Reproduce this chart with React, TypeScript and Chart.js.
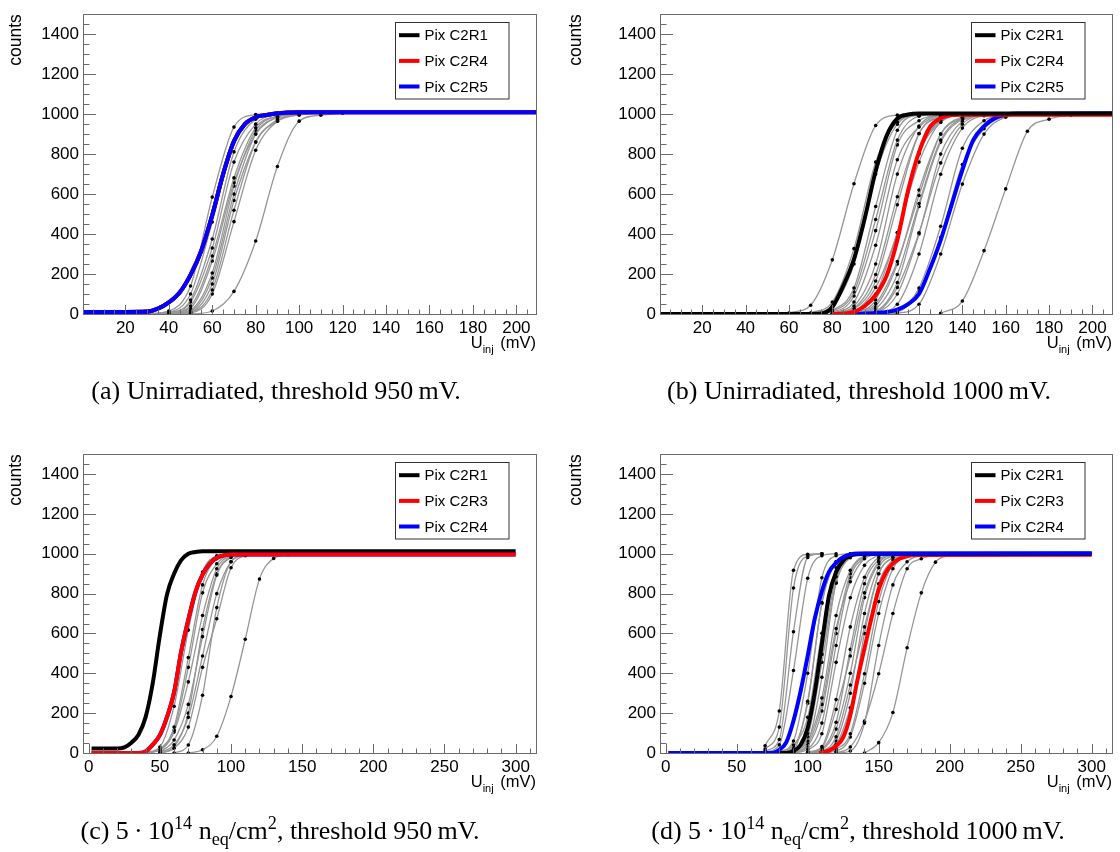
import React, { useEffect, useRef } from 'react';
import { Chart, registerables } from 'chart.js';

Chart.register(...registerables);

// ---------------- shared axis values ----------------
const yTickValues = [0, 200, 400, 600, 800, 1000, 1200, 1400];
const xTicksLow = [20, 40, 60, 80, 100, 120, 140, 160, 180, 200];
const xTicksHigh = [0, 50, 100, 150, 200, 250, 300];

// ---------------- panel (a) ----------------
const aLegend = ['Pix C2R1', 'Pix C2R4', 'Pix C2R5'];
const aX = [0.5, 10, 20, 30, 35, 40, 45, 50, 55, 60, 65, 70, 75, 80, 85, 90, 95, 100, 209.5];
const aC2R5 = [10, 10, 10, 12, 27, 58, 108, 196, 318, 495, 700, 865, 950, 985, 996, 1004, 1008, 1010, 1010];
const aC2R1 = aC2R5; // hidden under C2R5 in the reference
const aC2R4 = aC2R5; // hidden under C2R5 in the reference
const aGrayStart = [30, 30, 30, 30, 40, 40, 40, 40, 40, 40, 40, 50];
const aGray = [
  [2, 15, 140, 585, 935, 998, 1005],
  [1, 10, 100, 460, 860, 990, 1005],
  [0, 5, 70, 375, 811, 975, 1003],
  [0, 8, 60, 330, 760, 950, 1000, 1008],
  [3, 40, 290, 681, 932, 990, 1005],
  [2, 30, 265, 657, 900, 985, 1005],
  [1, 20, 205, 640, 919, 990, 1005],
  [1, 15, 180, 600, 900, 985, 1005],
  [0, 10, 150, 568, 860, 973, 1003],
  [0, 8, 120, 519, 860, 965, 1000],
  [0, 5, 100, 462, 819, 965, 995, 1005],
  [0, 15, 113, 365, 738, 965, 995, 1005],
];

// ---------------- panel (b) ----------------
const bLegend = ['Pix C2R1', 'Pix C2R4', 'Pix C2R5'];
const bC2R1X = [0.5, 70, 75, 80, 85, 90, 95, 100, 105, 110, 115, 120, 209.5];
const bC2R1 = [0, 0, 2, 35, 140, 275, 480, 715, 890, 978, 998, 1003, 1003];
const bC2R4X = [80, 85, 90, 95, 100, 105, 110, 115, 120, 125, 130, 135, 140, 209.5];
const bC2R4 = [0, 2, 10, 40, 95, 190, 370, 620, 810, 935, 980, 995, 997, 997];
const bC2R5X = [91, 95, 100, 105, 110, 115, 120, 125, 130, 135, 140, 145, 150, 155, 160, 165, 209.5];
const bC2R5 = [0, 2, 5, 10, 22, 50, 100, 225, 370, 545, 720, 870, 940, 980, 997, 1003, 1005];
const bGrayStart = [60, 70, 70, 70, 70, 70, 80, 80, 80, 80, 80, 80, 80, 80, 90, 90, 90, 90, 90, 90, 100, 100, 100, 130];
const bGray = [
  [5, 44, 271, 652, 943, 995, 1000],
  [5, 60, 327, 760, 960, 998, 1000],
  [3, 40, 250, 700, 950, 997, 1000],
  [2, 20, 130, 538, 919, 995, 1000],
  [1, 15, 110, 473, 870, 990, 1000],
  [0, 10, 90, 417, 846, 967, 998],
  [5, 60, 344, 772, 935, 995, 1000],
  [2, 40, 250, 700, 940, 995, 1000],
  [3, 30, 198, 587, 903, 990, 1000],
  [2, 25, 165, 546, 902, 985, 1000],
  [0, 15, 133, 408, 805, 970, 998],
  [0, 12, 100, 406, 760, 960, 998],
  [0, 5, 52, 263, 593, 900, 985, 1000],
  [0, 3, 28, 198, 553, 870, 980, 1000],
  [5, 70, 370, 800, 960, 997, 1000],
  [3, 40, 250, 620, 900, 980, 1000],
  [2, 15, 157, 538, 860, 975, 1000],
  [1, 10, 133, 406, 756, 950, 995, 1000],
  [0, 8, 100, 400, 800, 965, 998],
  [0, 5, 49, 300, 699, 930, 992, 1000],
  [0, 16, 130, 439, 829, 967, 995, 1000],
  [0, 10, 117, 382, 748, 927, 990, 1000],
  [0, 5, 49, 300, 650, 900, 985, 1000],
  [3, 65, 317, 626, 914, 975, 995],
];

// ---------------- panel (c) ----------------
const cLegend = ['Pix C2R1', 'Pix C2R3', 'Pix C2R4'];
const cC2R1X = [2, 10, 20, 25, 30, 35, 40, 45, 50, 55, 60, 65, 70, 75, 80, 300];
const cC2R1 = [22, 22, 22, 28, 52, 92, 180, 350, 590, 795, 900, 968, 1000, 1009, 1013, 1013];
const cC2R3X = [2, 20, 35, 40, 45, 50, 55, 60, 65, 70, 75, 80, 85, 90, 95, 100, 300];
const cC2R3 = [0, 0, 0, 8, 42, 90, 180, 305, 510, 670, 808, 895, 950, 980, 992, 997, 997];
const cC2R4X = cC2R3X; // hidden under C2R3 in the reference
const cC2R4 = cC2R3;
const cGrayStart = [40, 40, 40, 50, 50, 50, 50, 50, 60, 70];
const cGray = [
  [2, 30, 235, 617, 909, 990, 1000],
  [0, 20, 130, 479, 844, 975, 998],
  [0, 15, 114, 430, 804, 950, 995, 1000],
  [10, 105, 357, 690, 925, 990, 1000],
  [5, 65, 244, 584, 893, 982, 1000],
  [3, 41, 179, 487, 800, 960, 995],
  [0, 24, 130, 430, 674, 930, 990, 1000],
  [0, 30, 200, 620, 900, 985, 1000],
  [0, 40, 290, 730, 960, 995, 1000],
  [0, 16, 84, 284, 571, 873, 977, 995],
];

// ---------------- panel (d) ----------------
const dLegend = ['Pix C2R1', 'Pix C2R3', 'Pix C2R4'];
const dC2R1X = [2, 85, 90, 95, 100, 105, 110, 115, 120, 125, 130, 135, 140, 300];
const dC2R1 = [0, 0, 10, 40, 125, 305, 550, 790, 909, 965, 990, 998, 1000, 1000];
const dC2R3X = [108, 110, 115, 120, 125, 130, 135, 140, 145, 150, 155, 160, 165, 170, 175, 300];
const dC2R3 = [0, 2, 12, 35, 78, 190, 365, 525, 680, 820, 906, 952, 977, 988, 994, 995];
const dC2R4X = [2, 75, 80, 85, 90, 95, 100, 105, 110, 115, 120, 125, 130, 135, 300];
const dC2R4 = [0, 0, 16, 55, 162, 310, 487, 675, 812, 909, 955, 983, 997, 1002, 1003];
const dGrayStart = [70, 70, 70, 70, 80, 80, 90, 90, 90, 90, 90, 90, 100, 100, 100, 100, 100, 100, 100, 110, 110, 110, 120, 110, 120, 140, 80, 80, 90, 90];
const dGray = [
  [36, 211, 917, 998, 1000],
  [20, 130, 828, 990, 1000],
  [10, 68, 609, 982, 1000],
  [5, 41, 414, 877, 990, 1000],
  [2, 16, 260, 755, 960, 998],
  [3, 40, 179, 601, 909, 990, 1000],
  [15, 97, 495, 885, 985, 1000],
  [8, 81, 455, 852, 980, 1000],
  [5, 60, 276, 690, 917, 990, 1000],
  [3, 45, 244, 625, 860, 975, 998],
  [2, 35, 211, 600, 900, 985, 1000],
  [0, 20, 150, 540, 880, 980, 1000],
  [10, 97, 455, 779, 942, 995],
  [5, 32, 268, 633, 882, 982, 1000],
  [3, 25, 219, 487, 804, 960, 995],
  [2, 20, 154, 520, 850, 970, 998],
  [0, 15, 120, 400, 780, 950, 995, 1000],
  [0, 10, 81, 341, 633, 900, 982, 1000],
  [0, 5, 41, 227, 519, 850, 970, 998],
  [5, 60, 300, 700, 930, 990, 1000],
  [2, 40, 200, 600, 900, 980, 1000],
  [0, 20, 97, 398, 760, 950, 995],
  [0, 10, 150, 540, 844, 960, 995],
  [0, 10, 80, 350, 700, 925, 990, 1000],
  [0, 30, 160, 398, 700, 925, 975, 995],
  [0, 52, 203, 528, 804, 958, 995],
  [5, 60, 400, 880, 990, 1000],
  [2, 30, 250, 750, 960, 998],
  [5, 100, 520, 930, 995],
  [2, 50, 380, 860, 985, 1000],
];

// ---------------- styling ----------------
const GRAY = 'rgb(150,150,150)';
const BLACK = '#000000';
const RED = '#ff0000';
const BLUE = '#0000ff';
const SANS = '"Liberation Sans", Arial, Helvetica, sans-serif';
const SERIF = '"Liberation Serif", "Times New Roman", Times, serif';
const SAMPLE_STEP = 10; // mV between measured injection steps

function grayDatasets(starts: number[], curves: number[][]) {
  return curves.map((vals, k) => ({
    data: vals.map((v, i) => ({ x: starts[k] + i * SAMPLE_STEP, y: v })),
    borderColor: GRAY,
    borderWidth: 1.3,
    pointRadius: 1.8,
    pointBackgroundColor: '#000',
    pointBorderWidth: 0,
    pointStyle: 'circle',
    cubicInterpolationMode: 'monotone',
    order: 10,
  }));
}

function thick(xs: number[], ys: number[], color: string, order: number) {
  return {
    data: xs.map((x, i) => ({ x, y: ys[i] })),
    borderColor: color,
    borderWidth: 4,
    pointRadius: 0,
    cubicInterpolationMode: 'monotone',
    order,
  };
}

type Spec = {
  left: number;
  top: number;
  area: { left: number; right: number; top: number; bottom: number };
  xMin: number;
  xMax: number;
  xTicks: number[];
  xMinor: number;
  xMajor: number;
  legend: string[];
  colors: string[];
  datasets: any[];
};

const CW = 560;
const CH = 380;

const specs: Spec[] = [
  {
    left: 0, top: 0,
    area: { left: 83, right: 537, top: 5, bottom: 314 },
    xMin: 0.5, xMax: 209.5, xTicks: xTicksLow, xMinor: 5, xMajor: 20,
    legend: aLegend, colors: [BLACK, RED, BLUE],
    datasets: [
      thick(aX, aC2R1, BLACK, 2),
      thick(aX, aC2R4, RED, 1),
      thick(aX, aC2R5, BLUE, 0),
      ...grayDatasets(aGrayStart, aGray),
    ],
  },
  {
    left: 560, top: 0,
    area: { left: 100, right: 553, top: 5, bottom: 314 },
    xMin: 0.5, xMax: 209.5, xTicks: xTicksLow, xMinor: 5, xMajor: 20,
    legend: bLegend, colors: [BLACK, RED, BLUE],
    datasets: [
      thick(bC2R1X, bC2R1, BLACK, 0),
      thick(bC2R4X, bC2R4, RED, 1),
      thick(bC2R5X, bC2R5, BLUE, 2),
      ...grayDatasets(bGrayStart, bGray),
    ],
  },
  {
    left: 0, top: 440,
    area: { left: 83, right: 537, top: 5, bottom: 313 },
    xMin: -4, xMax: 315, xTicks: xTicksHigh, xMinor: 10, xMajor: 50,
    legend: cLegend, colors: [BLACK, RED, BLUE],
    datasets: [
      thick(cC2R1X, cC2R1, BLACK, 2),
      thick(cC2R4X, cC2R4, BLUE, 1),
      thick(cC2R3X, cC2R3, RED, 0),
      ...grayDatasets(cGrayStart, cGray),
    ],
  },
  {
    left: 560, top: 440,
    area: { left: 100, right: 553, top: 5, bottom: 313 },
    xMin: -4, xMax: 315, xTicks: xTicksHigh, xMinor: 10, xMajor: 50,
    legend: dLegend, colors: [BLACK, RED, BLUE],
    datasets: [
      thick(dC2R3X, dC2R3, RED, 2),
      thick(dC2R1X, dC2R1, BLACK, 1),
      thick(dC2R4X, dC2R4, BLUE, 0),
      ...grayDatasets(dGrayStart, dGray),
    ],
  },
];

function makeFramePlugin(spec: Spec) {
  return {
    id: 'frame',
    afterDatasetsDraw(chart: any) {
      const { ctx, chartArea: ca, scales } = chart;
      ctx.save();
      // frame
      ctx.strokeStyle = '#6a6a6a';
      ctx.lineWidth = 1;
      ctx.strokeRect(Math.round(ca.left) + 0.5, Math.round(ca.top) + 0.5, Math.round(ca.right - ca.left) - 1, Math.round(ca.bottom - ca.top));
      // y ticks (inward)
      const ys = scales.y;
      ctx.beginPath();
      for (let v = 0; v <= 1500; v += 50) {
        const py = Math.round(ys.getPixelForValue(v)) + 0.5;
        const len = v % 200 === 0 ? 13 : 6.5;
        ctx.moveTo(ca.left, py);
        ctx.lineTo(ca.left + len, py);
      }
      // x ticks (inward)
      const xs = scales.x;
      const first = Math.ceil(spec.xMin / spec.xMinor) * spec.xMinor;
      for (let v = first; v <= spec.xMax; v += spec.xMinor) {
        const px = Math.round(xs.getPixelForValue(v)) + 0.5;
        const len = v % spec.xMajor === 0 ? 9 : 4.5;
        ctx.moveTo(px, ca.bottom);
        ctx.lineTo(px, ca.bottom - len);
      }
      ctx.stroke();

      // legend
      const bx = Math.round(ca.right - 142.5) + 0.5;
      const by = Math.round(ca.top + 7.7) + 0.5;
      const bw = 113.5;
      const bh = 76.5;
      ctx.fillStyle = '#fff';
      ctx.fillRect(bx, by, bw, bh);
      ctx.strokeStyle = '#333';
      ctx.lineWidth = 1;
      ctx.strokeRect(bx, by, bw, bh);
      const rows = [21, 46.7, 72.3];
      ctx.font = `15px ${SANS}`;
      ctx.textBaseline = 'middle';
      ctx.textAlign = 'left';
      spec.legend.forEach((lab, i) => {
        const yy = ca.top + rows[i];
        ctx.strokeStyle = spec.colors[i];
        ctx.lineWidth = 4;
        ctx.beginPath();
        ctx.moveTo(bx + 3.5, yy);
        ctx.lineTo(bx + 24, yy);
        ctx.stroke();
        ctx.fillStyle = '#000';
        ctx.fillText(lab, bx + 29, yy + 1);
      });

      // x title: U_inj (mV)
      const baseY = ca.bottom + 34;
      ctx.fillStyle = '#000';
      ctx.textBaseline = 'alphabetic';
      ctx.font = `16.5px ${SANS}`;
      const wU = ctx.measureText('U').width;
      const wRest = ctx.measureText(' (mV)').width;
      ctx.font = `11px ${SANS}`;
      const wInj = ctx.measureText('inj').width;
      const x0 = ca.right - 1 - (wU + wInj + 2 + wRest);
      ctx.font = `16.5px ${SANS}`;
      ctx.fillText('U', x0, baseY);
      ctx.font = `11px ${SANS}`;
      ctx.fillText('inj', x0 + wU, baseY + 5);
      ctx.font = `16.5px ${SANS}`;
      ctx.fillText(' (mV)', x0 + wU + wInj + 2, baseY);
      ctx.restore();
    },
  };
}

function Panel({ spec }: { spec: Spec }) {
  const ref = useRef<HTMLCanvasElement>(null);
  useEffect(() => {
    const a = spec.area;
    const tickFont = { family: SANS, size: 17 };
    const plain = (v: any) => String(v);
    const chart = new Chart(ref.current as HTMLCanvasElement, {
      type: 'line',
      data: { datasets: spec.datasets },
      options: {
        animation: false,
        responsive: false,
        devicePixelRatio: 1,
        layout: { padding: { left: 0, right: CW - a.right, top: a.top, bottom: 0 } },
        scales: {
          x: {
            type: 'linear',
            min: spec.xMin,
            max: spec.xMax,
            afterBuildTicks: (s: any) => {
              s.ticks = spec.xTicks.map((v) => ({ value: v }));
            },
            afterFit: (s: any) => {
              s.height = CH - a.bottom;
            },
            grid: { display: false, drawTicks: false },
            border: { display: false },
            ticks: { font: tickFont, color: '#000', padding: 4, maxRotation: 0, autoSkip: false, callback: plain },
          },
          y: {
            type: 'linear',
            min: 0,
            max: 1500,
            afterBuildTicks: (s: any) => {
              s.ticks = yTickValues.map((v) => ({ value: v }));
            },
            afterFit: (s: any) => {
              s.width = a.left;
            },
            grid: { display: false, drawTicks: false },
            border: { display: false },
            ticks: { font: tickFont, color: '#000', padding: 4, autoSkip: false, callback: plain },
            title: {
              display: true,
              text: 'counts',
              align: 'end',
              color: '#000',
              font: { family: SANS, size: 17.5 },
              padding: { top: 6, bottom: 0 },
            },
          },
        },
        plugins: {
          legend: { display: false },
          tooltip: { enabled: false },
        },
      } as any,
      plugins: [makeFramePlugin(spec)],
    });
    return () => chart.destroy();
  }, []);
  return (
    <canvas
      ref={ref}
      width={CW}
      height={CH}
      style={{ position: 'absolute', left: spec.left, top: spec.top, width: CW, height: CH }}
    />
  );
}

const supStyle: React.CSSProperties = { fontSize: '0.7em', verticalAlign: 'super', lineHeight: 0 };
const subStyle: React.CSSProperties = { fontSize: '0.7em', verticalAlign: 'sub', lineHeight: 0 };

function Caption({ cx, baseline, children }: { cx: number; baseline: number; children: React.ReactNode }) {
  return (
    <div
      style={{
        position: 'absolute',
        left: cx - 280,
        width: 560,
        top: baseline - 22,
        textAlign: 'center',
        fontFamily: SERIF,
        fontSize: 26,
        lineHeight: '26px',
        whiteSpace: 'nowrap',
        color: '#000',
      }}
    >
      {children}
    </div>
  );
}

export default function App() {
  return (
    <div style={{ position: 'absolute', left: 0, top: 0, width: 1120, height: 852, background: '#fff', overflow: 'hidden' }}>
      {specs.map((s, i) => (
        <Panel key={i} spec={s} />
      ))}
      <Caption cx={276} baseline={400}>(a) Unirradiated, threshold 950{'\u2009'}mV.</Caption>
      <Caption cx={859} baseline={400}>(b) Unirradiated, threshold 1000{'\u2009'}mV.</Caption>
      <Caption cx={280} baseline={840}>
        (c) 5{'\u2009'}·{'\u2009'}10<sup style={supStyle}>14</sup> n<sub style={subStyle}>eq</sub>/cm<sup style={supStyle}>2</sup>, threshold 950{'\u2009'}mV.
      </Caption>
      <Caption cx={858} baseline={840}>
        (d) 5{'\u2009'}·{'\u2009'}10<sup style={supStyle}>14</sup> n<sub style={subStyle}>eq</sub>/cm<sup style={supStyle}>2</sup>, threshold 1000{'\u2009'}mV.
      </Caption>
    </div>
  );
}
